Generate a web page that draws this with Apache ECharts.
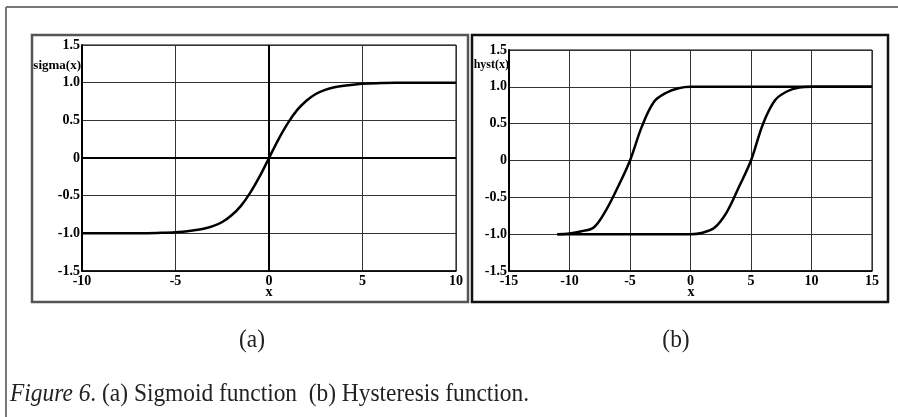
<!DOCTYPE html>
<html>
<head>
<meta charset="utf-8">
<script src="https://cdn.jsdelivr.net/npm/echarts@6/dist/echarts.min.js"></script>
<style>
html,body{margin:0;padding:0;background:#fff;}
#c{width:898px;height:417px;}
</style>
</head>
<body>
<div id="c"></div>
<script>
// Panel (a): sigmoid
const sigmaX = [-10, -8, -7, -6, -5, -4, -3.5, -3, -2.5, -2, -1.5, -1, -0.5, 0, 0.5, 1, 1.5, 2, 2.5, 3, 3.5, 4, 5, 6, 7, 8, 10];
const sigmaY = [-1.0, -1.0, -0.998, -0.995, -0.987, -0.96, -0.94, -0.905, -0.85, -0.76, -0.635, -0.46, -0.245, 0, 0.245, 0.46, 0.635, 0.76, 0.85, 0.905, 0.94, 0.96, 0.987, 0.995, 0.998, 1.0, 1.0];

// Panel (b): hysteresis, two branches
const hystUpX = [-11, -10, -9, -8, -7, -6, -5, -4, -3, -2, -1, 0, 5, 10, 15];
const hystUpY = [-1, -0.99, -0.96, -0.91, -0.68, -0.36, 0, 0.47, 0.8, 0.92, 0.98, 1, 1, 1, 1];
const hystDnX = [-11, -8, -5, -2, 0, 1, 2, 3, 4, 5, 6, 7, 8, 9, 10, 12, 15];
const hystDnY = [-1, -1, -1, -1, -1, -0.98, -0.91, -0.7, -0.36, 0, 0.5, 0.82, 0.94, 0.99, 1, 1, 1];

const yTicks = [-1.5, -1.0, -0.5, 0, 0.5, 1.0, 1.5];
const yTickLabels = ['-1.5', '-1.0', '-0.5', '0', '0.5', '1.0', '1.5'];

const zip = (xs, ys) => xs.map((x, i) => [x, ys[i]]);
const yLabelFmt = v => { const i = yTicks.findIndex(t => Math.abs(t - v) < 1e-6); return i >= 0 ? yTickLabels[i] : ''; };

const serif = '"Liberation Serif","Times New Roman",serif';
const tickFont = { fontFamily: serif, fontWeight: 'bold', fontSize: 14, color: '#000' };
const gridLine = { show: true, lineStyle: { color: '#333', width: 1 } };

const chart = echarts.init(document.getElementById('c'), null, { renderer: 'canvas' });
chart.setOption({
  backgroundColor: '#fff',
  animation: false,
  grid: [
    { left: 82, top: 45, right: 442, bottom: 146, show: true, borderColor: '#000', borderWidth: 1, backgroundColor: '#fff' },
    { left: 509, top: 50, right: 26, bottom: 146, show: true, borderColor: '#000', borderWidth: 1, backgroundColor: '#fff' }
  ],
  xAxis: [
    { gridIndex: 0, type: 'value', min: -10, max: 10, interval: 5,
      axisLine: { onZero: false, lineStyle: { color: '#000', width: 1.5 } }, axisTick: { show: false },
      axisLabel: Object.assign({ margin: 3 }, tickFont), splitLine: gridLine },
    { gridIndex: 1, type: 'value', min: -15, max: 15, interval: 5,
      axisLine: { onZero: false, lineStyle: { color: '#000', width: 1.5 } }, axisTick: { show: false },
      axisLabel: Object.assign({ margin: 3 }, tickFont), splitLine: gridLine }
  ],
  yAxis: [
    { gridIndex: 0, type: 'value', min: -1.5, max: 1.5, interval: 0.5,
      axisLine: { onZero: false, lineStyle: { color: '#000', width: 2 } }, axisTick: { show: false },
      axisLabel: Object.assign({ margin: 2, formatter: yLabelFmt }, tickFont), splitLine: gridLine },
    { gridIndex: 1, type: 'value', min: -1.5, max: 1.5, interval: 0.5,
      axisLine: { onZero: false, lineStyle: { color: '#000', width: 2 } }, axisTick: { show: false },
      axisLabel: Object.assign({ margin: 2, formatter: yLabelFmt }, tickFont), splitLine: gridLine }
  ],
  series: [
    { type: 'line', xAxisIndex: 0, yAxisIndex: 0, data: zip(sigmaX, sigmaY), smooth: 0.35,
      showSymbol: false, lineStyle: { color: '#000', width: 2.5 },
      markLine: { silent: true, symbol: 'none', label: { show: false },
        lineStyle: { color: '#000', width: 2, type: 'solid' },
        data: [{ xAxis: 0 }, { yAxis: 0 }] } },
    { type: 'line', xAxisIndex: 1, yAxisIndex: 1, data: zip(hystUpX, hystUpY), smooth: 0.35,
      showSymbol: false, lineStyle: { color: '#000', width: 2.5 } },
    { type: 'line', xAxisIndex: 1, yAxisIndex: 1, data: zip(hystDnX, hystDnY), smooth: 0.35,
      showSymbol: false, lineStyle: { color: '#000', width: 2.5 } }
  ],
  graphic: [
    { type: 'line', shape: { x1: 6, y1: 7, x2: 6, y2: 417 }, style: { stroke: '#777', lineWidth: 2 } },
    { type: 'line', shape: { x1: 6, y1: 7, x2: 898, y2: 7 }, style: { stroke: '#777', lineWidth: 2 } },
    { type: 'rect', shape: { x: 32, y: 35, width: 436, height: 267 }, style: { fill: null, stroke: '#555', lineWidth: 2.5 }, z: -1 },
    { type: 'rect', shape: { x: 472, y: 35, width: 416, height: 267 }, style: { fill: null, stroke: '#111', lineWidth: 2.5 }, z: -1 },
    { type: 'text', x: 81, y: 66, style: { text: 'sigma(x)', font: 'bold 13px ' + serif, fill: '#000', textAlign: 'right', textVerticalAlign: 'middle' } },
    { type: 'text', x: 509, y: 65, style: { text: 'hyst(x)', font: 'bold 12px ' + serif, fill: '#000', textAlign: 'right', textVerticalAlign: 'middle' } },
    { type: 'text', x: 269, y: 292, style: { text: 'x', font: 'bold 14px ' + serif, fill: '#000', textAlign: 'center', textVerticalAlign: 'middle' } },
    { type: 'text', x: 691, y: 292, style: { text: 'x', font: 'bold 14px ' + serif, fill: '#000', textAlign: 'center', textVerticalAlign: 'middle' } },
    { type: 'text', x: 252, y: 340, scaleX: 0.9, style: { text: '(a)', font: '26px ' + serif, fill: '#222', textAlign: 'center', textVerticalAlign: 'middle' } },
    { type: 'text', x: 676, y: 340, scaleX: 0.9, style: { text: '(b)', font: '26px ' + serif, fill: '#222', textAlign: 'center', textVerticalAlign: 'middle' } },
    { type: 'text', x: 10, y: 394, scaleX: 0.9, style: { rich: {
        i: { font: 'italic 26px ' + serif, fill: '#222' },
        n: { font: '26px ' + serif, fill: '#222' } },
        text: '{i|Figure 6}{n|. (a) Sigmoid function  (b) Hysteresis function.}', textAlign: 'left', textVerticalAlign: 'middle' } }
  ]
});
</script>
</body>
</html>
